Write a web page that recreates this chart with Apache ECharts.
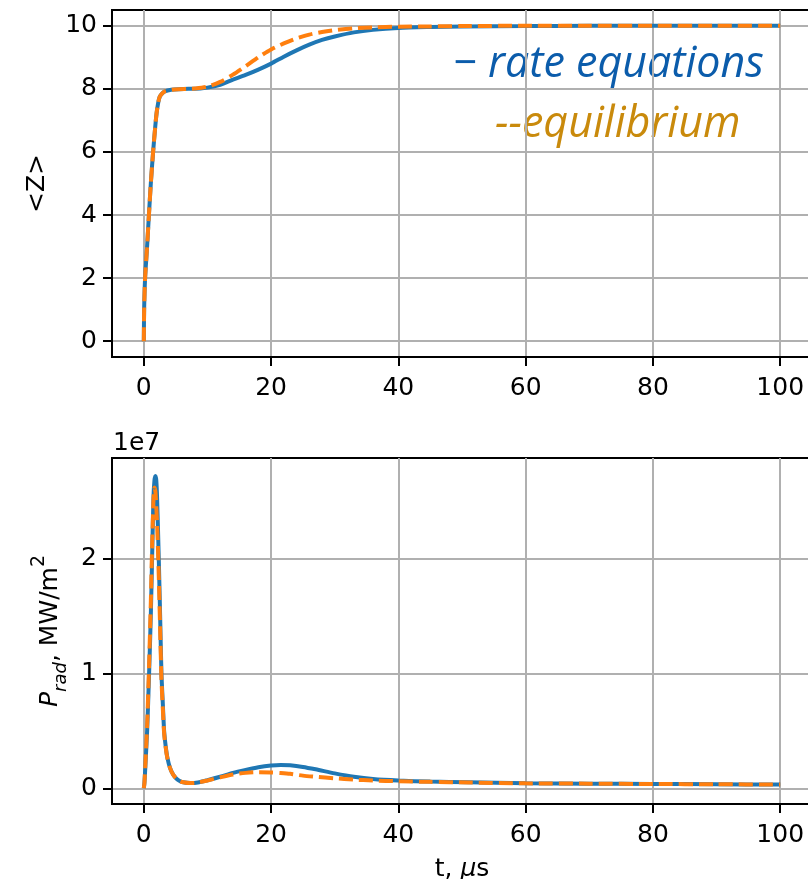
<!DOCTYPE html>
<html>
<head>
<meta charset="utf-8">
<script src="https://cdn.jsdelivr.net/npm/echarts@6/dist/echarts.min.js"></script>
<style>
html,body{margin:0;padding:0;background:#fff;}
#chart{width:808px;height:879px;}
</style>
</head>
<body>
<div id="chart"></div>
<script>
// ---- data ----
var tZ = [0, 0.05, 0.2, 0.5, 0.8, 1.1, 1.46, 1.75, 2.0, 2.25, 2.5, 2.9, 3.3, 4.3, 5.5, 7, 8, 10, 12, 14, 16, 18, 20, 22, 24, 26, 28, 30, 33, 36, 40, 45, 50, 60, 70, 80, 90, 100];
var zRate = [0, 1.0, 2.0, 2.95, 4.0, 5.0, 6.0, 6.7, 7.22, 7.55, 7.75, 7.86, 7.92, 7.97, 7.99, 8.0, 8.0, 8.04, 8.13, 8.29, 8.44, 8.61, 8.8, 9.02, 9.22, 9.4, 9.55, 9.66, 9.79, 9.87, 9.93, 9.96, 9.98, 9.99, 10, 10, 10, 10];
var zEquil = [0, 1.0, 2.0, 2.95, 4.0, 5.0, 6.0, 6.7, 7.22, 7.55, 7.75, 7.86, 7.92, 7.97, 7.99, 8.0, 8.01, 8.07, 8.22, 8.45, 8.72, 9.0, 9.25, 9.44, 9.6, 9.72, 9.8, 9.86, 9.92, 9.95, 9.97, 9.98, 9.99, 10, 10, 10, 10, 10];

var tP = [0, 0.1, 0.26, 0.52, 0.83, 1.1, 1.3, 1.51, 1.67, 1.83, 1.96, 2.09, 2.35, 2.56, 2.77, 3.0, 3.19, 3.45, 3.71, 4.1, 4.6, 5.1, 5.65, 6.2, 7.3, 8.5, 10, 12, 14, 16, 18, 20, 21.5, 23, 25, 27, 30, 33, 36, 40, 45, 51, 60, 70, 80, 90, 100];
// values in units of 1e7
var pRate = [0, 0.05, 0.21, 0.50, 1.0, 1.51, 2.0, 2.52, 2.68, 2.72, 2.68, 2.52, 2.0, 1.51, 1.0, 0.72, 0.5, 0.36, 0.264, 0.18, 0.119, 0.085, 0.063, 0.052, 0.045, 0.05, 0.07, 0.1, 0.134, 0.16, 0.183, 0.198, 0.203, 0.2, 0.186, 0.165, 0.13, 0.1, 0.08, 0.067, 0.058, 0.052, 0.043, 0.04, 0.038, 0.035, 0.032];
var pEquil = [0, 0.05, 0.23, 0.55, 1.08, 1.62, 2.1, 2.5, 2.62, 2.58, 2.45, 2.3, 1.85, 1.4, 0.95, 0.68, 0.48, 0.35, 0.26, 0.18, 0.119, 0.085, 0.063, 0.052, 0.045, 0.05, 0.068, 0.095, 0.12, 0.134, 0.14, 0.138, 0.133, 0.126, 0.11, 0.1, 0.087, 0.075, 0.068, 0.061, 0.056, 0.05, 0.043, 0.04, 0.037, 0.035, 0.032];

var xTicks = [0, 20, 40, 60, 80, 100];
var zTicks = [0, 2, 4, 6, 8, 10];
var pTicks = [0, 1, 2];
var legendRate = '\u2212 rate equations';
var legendEquil = '--equilibrium';

function pairs(t, v) { return t.map(function (x, i) { return [x, v[i]]; }); }

var FONT = 'DejaVu Sans';
var BLUE = '#1f77b4', ORANGE = '#ff7f0e';

function xAxis(gi, withName) {
  var a = {
    type: 'value', gridIndex: gi, min: -5, max: 105,
    axisLine: { show: true, onZero: false, lineStyle: { color: '#000', width: 2 } },
    axisTick: { show: true, inside: false, length: 9, lineStyle: { color: '#000', width: 2 }, customValues: xTicks },
    axisLabel: { show: true, margin: 19, fontSize: 25, fontFamily: FONT, color: '#000', customValues: xTicks },
    splitLine: { show: true, lineStyle: { color: '#b0b0b0', width: 2 } }
  };
  if (withName) {
    a.name = '{n|t, }{i|\u03bc}{n|s}';
    a.nameLocation = 'middle';
    a.nameGap = 53;
    a.nameTextStyle = { rich: {
      n: { fontSize: 25, fontFamily: FONT, color: '#000' },
      i: { fontSize: 25, fontFamily: FONT, fontStyle: 'italic', color: '#000' }
    } };
  }
  return a;
}

var option = {
  animation: false,
  backgroundColor: '#fff',
  grid: [
    { left: 112, top: 10, width: 700, height: 347, show: true, borderColor: '#000', borderWidth: 2, containLabel: false, outerBoundsMode: 'none' },
    { left: 112, top: 458, width: 700, height: 346, show: true, borderColor: '#000', borderWidth: 2, containLabel: false, outerBoundsMode: 'none' }
  ],
  xAxis: [xAxis(0, false), xAxis(1, true)],
  yAxis: [
    {
      type: 'value', gridIndex: 0, min: -0.5, max: 10.5,
      name: '<Z>', nameLocation: 'middle', nameGap: 62,
      nameTextStyle: { fontSize: 25, fontFamily: FONT, color: '#000' },
      axisLine: { show: true, onZero: false, lineStyle: { color: '#000', width: 2 } },
      axisTick: { show: true, length: 9, lineStyle: { color: '#000', width: 2 }, customValues: zTicks },
      axisLabel: { margin: 15, fontSize: 25, fontFamily: FONT, color: '#000', customValues: zTicks },
      splitLine: { show: true, lineStyle: { color: '#b0b0b0', width: 2 } }
    },
    {
      type: 'value', gridIndex: 1, min: -0.137, max: 2.876,
      name: '{i|P}{s|rad}{n|, MW/m}{p|2}', nameLocation: 'middle', nameGap: 42,
      nameTextStyle: { rich: {
        i: { fontSize: 25, fontFamily: FONT, fontStyle: 'italic', color: '#000', lineHeight: 40 },
        s: { fontSize: 18, fontFamily: FONT, fontStyle: 'italic', color: '#000', lineHeight: 40, verticalAlign: 'bottom' },
        n: { fontSize: 25, fontFamily: FONT, color: '#000', lineHeight: 40 },
        p: { fontSize: 19, fontFamily: FONT, color: '#000', lineHeight: 40, verticalAlign: 'top' }
      } },
      axisLine: { show: true, onZero: false, lineStyle: { color: '#000', width: 2 } },
      axisTick: { show: true, length: 9, lineStyle: { color: '#000', width: 2 }, customValues: pTicks },
      axisLabel: { margin: 15, fontSize: 25, fontFamily: FONT, color: '#000', customValues: pTicks },
      splitLine: { show: true, lineStyle: { color: '#b0b0b0', width: 2 } }
    }
  ],
  series: [
    { type: 'line', xAxisIndex: 0, yAxisIndex: 0, data: pairs(tZ, zRate), showSymbol: false, smooth: 0.25,
      lineStyle: { color: BLUE, width: 4 }, z: 3 },
    { type: 'line', xAxisIndex: 0, yAxisIndex: 0, data: pairs(tZ, zEquil), showSymbol: false, smooth: 0.25,
      lineStyle: { color: ORANGE, width: 4, type: [14, 6] }, z: 4 },
    { type: 'line', xAxisIndex: 1, yAxisIndex: 1, data: pairs(tP, pRate), showSymbol: false, smooth: 0.25,
      lineStyle: { color: BLUE, width: 4 }, z: 3 },
    { type: 'line', xAxisIndex: 1, yAxisIndex: 1, data: pairs(tP, pEquil), showSymbol: false, smooth: 0.25,
      lineStyle: { color: ORANGE, width: 4, type: [14, 6] }, z: 4 }
  ],
  graphic: [
    { type: 'text', left: 113, top: 431, style: { text: '1e7', fontSize: 25, fontFamily: FONT, fill: '#000' } },
    { type: 'text', x: 453, y: 65, style: { text: legendRate, fontSize: 43, fontFamily: 'Open Sans', fontStyle: 'italic', fill: '#0b5cab', verticalAlign: 'middle' } },
    { type: 'text', x: 495, y: 125, style: { text: legendEquil, fontSize: 43, fontFamily: 'Open Sans', fontStyle: 'italic', fill: '#c98a0c', verticalAlign: 'middle' } }
  ]
};

var chart = echarts.init(document.getElementById('chart'), null, { renderer: 'canvas' });
chart.setOption(option);
</script>
</body>
</html>
